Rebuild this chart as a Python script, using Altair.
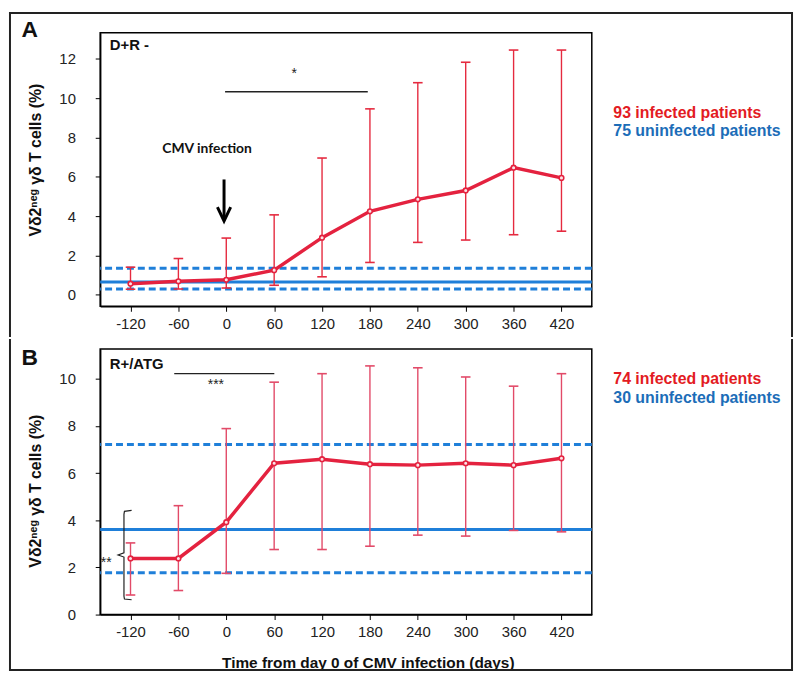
import altair as alt
import pandas as pd

# ---------------- data ----------------
days = [-120, -60, 0, 60, 120, 180, 240, 300, 360, 420]

a_mean = [0.57, 0.69, 0.77, 1.26, 2.91, 4.25, 4.86, 5.31, 6.47, 5.95]
a_hi = [1.41, 1.85, 2.89, 4.07, 6.96, 9.46, 10.79, 11.83, 12.45, 12.45]
a_lo = [0.29, 0.30, 0.35, 0.49, 0.92, 1.65, 2.67, 2.79, 3.06, 3.24]
a_ref = [0.66, 0.30, 1.36]  # median, lower, upper of uninfected

b_mean = [2.38, 2.38, 3.92, 6.42, 6.59, 6.38, 6.34, 6.42, 6.34, 6.63]
b_hi = [3.04, 4.62, 7.89, 9.86, 10.22, 10.55, 10.47, 10.08, 9.69, 10.22]
b_lo = [0.83, 1.02, 1.75, 2.76, 2.76, 2.90, 3.37, 3.33, 3.57, 3.51]
b_ref = [3.61, 1.77, 7.22]

a_legend = ["93 infected patients", "75 uninfected patients"]
b_legend = ["74 infected patients", "30 uninfected patients"]

x_ticks = days
a_yticks = [0, 2, 4, 6, 8, 10, 12]
b_yticks = [0, 2, 4, 6, 8, 10]

RED = "#e4223f"
RED_TXT = "#e31b23"
BLUE = "#1f7fd9"
BLUE_TXT = "#1c6db8"
FONT = "Liberation Sans"
YTITLE = "Vδ2ⁿᵉᵍ γδ T cells  (%)"
XTITLE = "Time from day 0 of CMV infection (days)"

W = 496
X_DOMAIN = [-158, 458]
xs = alt.Scale(domain=X_DOMAIN, nice=False, zero=False)


def make_axes(yticks, xtitle, title_y):
    xaxis = alt.Axis(values=x_ticks, title=xtitle, grid=False, labelFontSize=15,
                     labelColor="#222", labelPadding=5, tickSize=5, tickColor="black",
                     domainColor="black", titleFontSize=15.5, titleFontWeight="bold",
                     titlePadding=16, titleColor="#111", labelFlush=False,
                     titleX=270, titleAlign="center",
                     labelExpr="datum.value + ''")
    yaxis = alt.Axis(values=yticks, title=YTITLE, grid=False, labelFontSize=15,
                     labelColor="#222", labelPadding=20, tickSize=5, tickColor="black",
                     domainColor="black", titleFontSize=16, titleFontWeight="bold",
                     titlePadding=16, titleColor="#111", labelFlush=False,
                     titleY=title_y, titleAlign="center",
                     labelExpr="datum.value + ''")
    return xaxis, yaxis


one = pd.DataFrame({"k": [0]})


def border(x, y, x2, y2):
    # thin filled rectangle (no stroke, so its bounds are exact)
    return alt.Chart(one).mark_rect(color="#222", strokeWidth=0).encode(
        x=alt.value(x), x2=alt.value(x2), y=alt.value(y), y2=alt.value(y2))


def panel(mean, lo, hi, ref, ydomain, height, yticks, xtitle, title_y, bar_color,
          cond_label, legend, legend_y, letter, letter_y, border_top, border_bottom,
          extras):
    ys = alt.Scale(domain=ydomain, nice=False, zero=False)
    xaxis, yaxis = make_axes(yticks, xtitle, title_y)
    df = pd.DataFrame({"day": days, "mean": mean, "lo": lo, "hi": hi})
    df["c1"] = df["day"] - 6
    df["c2"] = df["day"] + 6
    base = alt.Chart(df)
    X = lambda f: alt.X(f, type="quantitative", scale=xs, axis=xaxis)
    Y = lambda f: alt.Y(f, type="quantitative", scale=ys, axis=yaxis)

    refdf = pd.DataFrame({"v": ref, "kind": ["solid", "dash", "dash"]})
    solid = alt.Chart(refdf[refdf.kind == "solid"]).mark_rule(
        color=BLUE, strokeWidth=3).encode(y=Y("v"))
    dashed = alt.Chart(refdf[refdf.kind == "dash"]).mark_rule(
        color=BLUE, strokeWidth=3, strokeDash=[7, 4]).encode(y=Y("v"))

    bars = base.mark_rule(color=bar_color, strokeWidth=1.4).encode(
        x=X("day"), y=Y("lo"), y2="hi")
    caps_hi = base.mark_rule(color=bar_color, strokeWidth=1.6).encode(
        x=X("c1"), x2="c2", y=Y("hi"))
    caps_lo = base.mark_rule(color=bar_color, strokeWidth=1.6).encode(
        x=X("c1"), x2="c2", y=Y("lo"))
    line = base.mark_line(color=RED, strokeWidth=3.5).encode(x=X("day"), y=Y("mean"))
    pts = base.mark_point(color=RED, shape="circle", size=22, filled=False,
                          strokeWidth=1.6, fill="#fbe3e7", fillOpacity=1).encode(
        x=X("day"), y=Y("mean"))

    cond = alt.Chart(pd.DataFrame({"day": [-146], "v": [cond_label[1]],
                                   "t": [cond_label[0]]})).mark_text(
        align="left", baseline="middle", fontSize=15, fontWeight="bold",
        color="#111", font=FONT).encode(x=X("day"), y=Y("v"), text="t")

    leg = alt.Chart(pd.DataFrame({"day": [485, 485], "v": legend_y, "t": legend,
                                  "c": [RED_TXT, BLUE_TXT]})).mark_text(
        align="left", baseline="middle", fontSize=16, fontWeight="bold",
        font=FONT).encode(x=X("day"), y=Y("v"), text="t",
                          color=alt.Color("c:N", scale=None))

    let = alt.Chart(one).mark_text(
        text=letter, fontSize=23, fontWeight="bold", font=FONT, color="#111",
        align="center", baseline="middle").encode(
        x=alt.value(-71), y=alt.value(letter_y))

    bl = border(-92, border_top, -90, border_bottom)
    br = border(697, border_top, 699, border_bottom)

    layers = [dashed, solid, bars, caps_hi, caps_lo, line, pts, cond, leg, let, bl, br]
    layers += extras(X, Y)
    return alt.layer(*layers).properties(width=W, height=height)


def extras_a(X, Y):
    sig = alt.Chart(pd.DataFrame({"x1": [-1.5], "x2": [177.3], "v": [10.33]})).mark_rule(
        color="#222", strokeWidth=1.3).encode(x=X("x1"), x2="x2", y=Y("v"))
    star = alt.Chart(pd.DataFrame({"day": [85], "v": [11.25], "t": ["*"]})).mark_text(
        fontSize=14, color="#222", baseline="middle").encode(x=X("day"), y=Y("v"), text="t")
    cmv = alt.Chart(pd.DataFrame({"day": [-24], "v": [7.44], "t": ["CMV infection"]})).mark_text(
        fontSize=14, fontWeight="bold", font="Lato", color="#111",
        baseline="middle").encode(x=X("day"), y=Y("v"), text="t")
    shaft = alt.Chart(pd.DataFrame({"day": [-2.8], "v1": [5.87], "v2": [3.9]})).mark_rule(
        color="black", strokeWidth=3).encode(x=X("day"), y=Y("v1"), y2="v2")
    head = alt.Chart(pd.DataFrame({"day": [-11.1, -2.8, 5.5], "v": [4.46, 3.76, 4.46],
                                   "o": [0, 1, 2]})).mark_line(
        color="black", strokeWidth=3, strokeJoin="miter").encode(
        x=X("day"), y=Y("v"), order="o")
    top = border(-92, -21, 699, -19)
    return [sig, star, cmv, shaft, head, top]


def extras_b(X, Y):
    sig = alt.Chart(pd.DataFrame({"x1": [-65.2], "x2": [60.2], "v": [10.22]})).mark_rule(
        color="#222", strokeWidth=1.3).encode(x=X("x1"), x2="x2", y=Y("v"))
    star = alt.Chart(pd.DataFrame({"day": [-13], "v": [9.72], "t": ["***"]})).mark_text(
        fontSize=14, color="#222", baseline="middle").encode(x=X("day"), y=Y("v"), text="t")
    star2 = alt.Chart(pd.DataFrame({"day": [-150.5], "v": [2.2], "t": ["**"]})).mark_text(
        fontSize=14, color="#222", baseline="middle").encode(x=X("day"), y=Y("v"), text="t")
    brace = alt.Chart(pd.DataFrame({
        "day": [-118.6, -127.6, -128.2, -128.2, -135.6, -128.2, -128.2, -127.6, -118.6],
        "v": [4.42, 4.38, 4.25, 2.62, 2.53, 2.44, 0.78, 0.66, 0.63],
        "o": list(range(9))})).mark_line(color="#222", strokeWidth=1.2).encode(
        x=X("day"), y=Y("v"), order="o")
    bottom = border(-92, 323, 699, 325)
    return [sig, star, star2, brace, bottom]


pa = panel(a_mean, a_lo, a_hi, a_ref, [-0.58, 13.33], 276, a_yticks, None, 128,
           "#e52a3f", ("D+R -", 12.68), a_legend, [9.25, 8.35], "A", -3,
           -21, 307, extras_a)
pb = panel(b_mean, b_lo, b_hi, b_ref, [0, 11.27], 268, b_yticks, XTITLE, 143,
           "#e24a68", ("R+/ATG", 10.64), b_legend, [9.98, 9.20], "B", 9,
           -10, 325, extras_b)

chart = alt.vconcat(pa, pb, spacing=0).properties(
    padding={"left": 0, "top": 0, "right": 0, "bottom": 0},
    autosize=alt.AutoSizeParams(type="pad"),
).configure(
    font=FONT
).configure_view(stroke="black", strokeWidth=1.5).configure_axis(
    labelFont=FONT, titleFont=FONT, domainWidth=1.5)

chart.save("out.html", embed_options={"renderer": "svg", "actions": False})
